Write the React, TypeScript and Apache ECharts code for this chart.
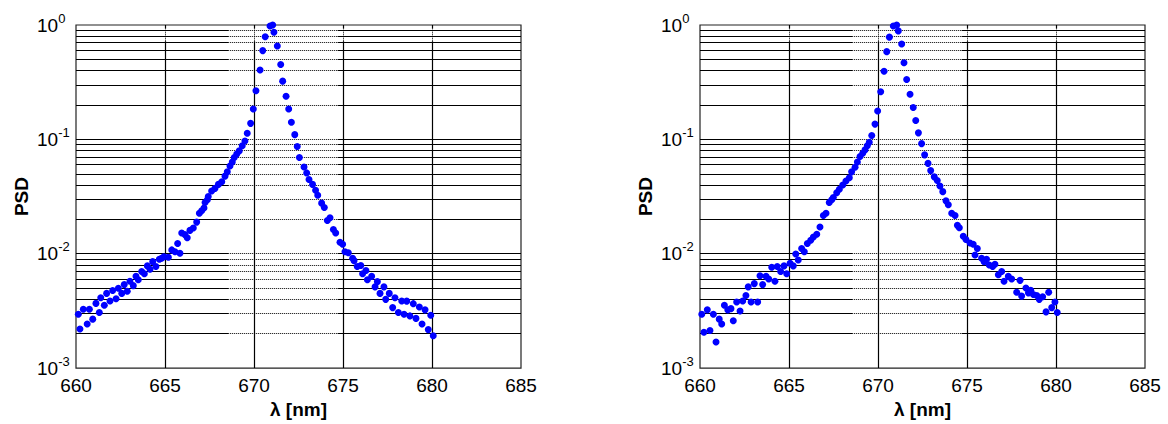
import React, { useEffect, useRef } from "react";
import * as echarts from "echarts";

// ---- data ----
const xTicks = [660, 665, 670, 675, 680, 685];
const yDecades = [0.001, 0.01, 0.1];
const yMultipliers = [1, 2, 3, 4, 5, 6, 7, 8, 9];
const vGridX = [665, 670, 675, 680];

const leftX = [
  660.13, 660.22, 660.41, 660.63, 660.75, 660.94, 661.12, 661.31, 661.39, 661.59,
  661.72, 661.91, 662.06, 662.25, 662.38, 662.57, 662.71, 662.88, 663.03, 663.22,
  663.37, 663.5, 663.69, 663.84, 664.01, 664.16, 664.31, 664.49, 664.68, 664.81,
  664.94, 665.19, 665.38, 665.56, 665.71, 665.84, 665.94, 666.12, 666.25, 666.4,
  666.59, 666.78, 666.93, 667.06, 667.19, 667.25, 667.38, 667.43, 667.62, 667.81,
  668.0, 668.19, 668.37, 668.5, 668.65, 668.78, 668.89, 669.03, 669.17, 669.34,
  669.49, 669.62, 669.81, 669.96, 670.11, 670.34, 670.49, 670.63, 670.9, 671.05,
  671.12, 671.31, 671.5, 671.61, 671.8, 671.95, 672.1, 672.29, 672.43, 672.55,
  672.81, 672.96, 673.09, 673.29, 673.46, 673.58, 673.8, 673.95, 674.12, 674.27,
  674.46, 674.59, 674.83, 674.98, 675.11, 675.3, 675.54, 675.62, 675.8, 676.0,
  676.1, 676.29, 676.37, 676.61, 676.8, 676.93, 677.08, 677.3, 677.4, 677.6,
  677.79, 677.92, 678.11, 678.3, 678.43, 678.58, 678.76, 678.95, 679.1, 679.29,
  679.44, 679.61, 679.79, 679.93, 680.07,
];
const leftY = [
  0.00296, 0.0022, 0.00327, 0.00243, 0.00327, 0.00268, 0.00368, 0.00306, 0.00412, 0.00354,
  0.0045, 0.00386, 0.00477, 0.00404, 0.00499, 0.0045, 0.00537, 0.0047, 0.00574, 0.00526,
  0.00634, 0.00593, 0.007, 0.00668, 0.00783, 0.00732, 0.00853, 0.00773, 0.00894, 0.00912,
  0.00942, 0.0093, 0.0108, 0.0104, 0.0123, 0.0101, 0.0152, 0.0147, 0.0138, 0.016,
  0.0168, 0.0189, 0.0226, 0.0238, 0.0251, 0.0281, 0.0296, 0.0316, 0.0354, 0.0373,
  0.0404, 0.0426, 0.0477, 0.052, 0.0585, 0.0633, 0.0695, 0.0743, 0.0793, 0.088,
  0.0967, 0.113, 0.138, 0.184, 0.266, 0.404, 0.597, 0.79, 0.98, 1.0,
  0.865, 0.655, 0.452, 0.323, 0.238, 0.184, 0.141, 0.11, 0.0865, 0.0695,
  0.0574, 0.0509, 0.0446, 0.0404, 0.0359, 0.0325, 0.0277, 0.0254, 0.0195, 0.0206,
  0.0163, 0.0152, 0.0126, 0.0121, 0.0104, 0.0102, 0.00912, 0.0087, 0.00773, 0.00788,
  0.00668, 0.00713, 0.00593, 0.00634, 0.00513, 0.0057, 0.0045, 0.00513, 0.00399, 0.0045,
  0.00338, 0.00412, 0.00306, 0.00386, 0.00296, 0.00385, 0.00286, 0.00366, 0.00272, 0.00342,
  0.00243, 0.00323, 0.00217, 0.0029, 0.00192,
];

const rightX = [
  660.1, 660.22, 660.41, 660.56, 660.75, 660.9, 661.08, 661.22, 661.37, 661.56,
  661.74, 661.87, 662.06, 662.25, 662.4, 662.58, 662.71, 662.87, 663.05, 663.24,
  663.37, 663.52, 663.71, 663.86, 664.03, 664.21, 664.34, 664.53, 664.72, 664.87,
  665.06, 665.24, 665.38, 665.52, 665.71, 665.86, 666.03, 666.22, 666.37, 666.56,
  666.74, 666.93, 667.08, 667.26, 667.4, 667.49, 667.68, 667.83, 668.02, 668.2,
  668.39, 668.52, 668.71, 668.84, 668.99, 669.14, 669.27, 669.4, 669.51, 669.65,
  669.83, 669.98, 670.15, 670.34, 670.49, 670.64, 670.86, 671.05, 671.14, 671.33,
  671.46, 671.61, 671.8, 671.98, 672.12, 672.27, 672.45, 672.62, 672.81, 672.96,
  673.16, 673.33, 673.48, 673.64, 673.82, 673.95, 674.14, 674.33, 674.46, 674.57,
  674.79, 674.94, 675.17, 675.35, 675.45, 675.58, 675.82, 675.96, 676.1, 676.25,
  676.44, 676.57, 676.76, 676.95, 677.08, 677.32, 677.51, 677.79, 677.98, 678.07,
  678.31, 678.45, 678.58, 678.73, 678.92, 679.06, 679.25, 679.44, 679.59, 679.76,
  679.94, 680.07,
];
const rightY = [
  0.00296, 0.00206, 0.00323, 0.00213, 0.00296, 0.00169, 0.00268, 0.00243, 0.00354, 0.00323,
  0.00331, 0.00259, 0.00378, 0.00316, 0.00386, 0.00432, 0.00513, 0.00378, 0.00548, 0.00378,
  0.00643, 0.00537, 0.00634, 0.00601, 0.00762, 0.00574, 0.00773, 0.007, 0.00783, 0.00668,
  0.00826, 0.00783, 0.00994, 0.00883, 0.0111, 0.0104, 0.0123, 0.0131, 0.014, 0.0148,
  0.0171, 0.0216, 0.0226, 0.0281, 0.0296, 0.031, 0.0342, 0.0366, 0.0399, 0.0432,
  0.0461, 0.052, 0.057, 0.0633, 0.0709, 0.0757, 0.0809, 0.088, 0.0942, 0.108,
  0.136, 0.177, 0.261, 0.394, 0.585, 0.783, 0.98, 1.0, 0.888, 0.681,
  0.468, 0.334, 0.248, 0.19, 0.146, 0.114, 0.0918, 0.0732, 0.0617, 0.0533,
  0.047, 0.0437, 0.0391, 0.0349, 0.029, 0.0268, 0.0226, 0.0216, 0.0177, 0.0169,
  0.0142, 0.0133, 0.0124, 0.0121, 0.00975, 0.0111, 0.00912, 0.00853, 0.00894, 0.00798,
  0.00773, 0.00809, 0.00655, 0.007, 0.00574, 0.00634, 0.00601, 0.00461, 0.00585, 0.00426,
  0.00502, 0.00455, 0.0048, 0.0044, 0.00431, 0.00399, 0.0042, 0.0031, 0.00461, 0.00338,
  0.00378, 0.00306,
];

// ---- styling constants ----
const FONT = "'Liberation Sans', Arial, Helvetica, sans-serif";
const X_MIN = 660;
const X_MAX = 685;
const Y_MIN = 0.001;
const Y_MAX = 1;
const DOT_X: [number, number] = [668.55, 674.7];
const DOT_Y: [number, number] = [0.72, 0.93];

const hGridValues: number[] = [];
yDecades.forEach((d) =>
  yMultipliers.forEach((m) => {
    const v = +(d * m).toPrecision(6);
    if (v > Y_MIN && v < Y_MAX) hGridValues.push(v);
  })
);

const solid = { color: "#000", width: 1.2, type: "solid" as const, opacity: 1 };
const dotted = { color: "#000", width: 1, type: [1, 1] as any, opacity: 1 };

function gridLines() {
  const out: any[] = [];
  hGridValues.forEach((v) => {
    out.push({ coords: [[X_MIN, v], [DOT_X[0], v]], lineStyle: solid });
    out.push({ coords: [[DOT_X[0], v], [DOT_X[1], v]], lineStyle: dotted });
    out.push({ coords: [[DOT_X[1], v], [X_MAX, v]], lineStyle: solid });
  });
  vGridX.forEach((x) => {
    out.push({ coords: [[x, Y_MIN], [x, DOT_Y[0]]], lineStyle: solid });
    out.push({ coords: [[x, DOT_Y[0]], [x, DOT_Y[1]]], lineStyle: dotted });
    out.push({ coords: [[x, DOT_Y[1]], [x, Y_MAX]], lineStyle: solid });
  });
  return out;
}

function makeX(gridIndex: number) {
  return {
    type: "value",
    gridIndex,
    min: X_MIN,
    max: X_MAX,
    interval: 5,
    name: "λ [nm]",
    nameLocation: "middle",
    nameGap: 25,
    nameTextStyle: { fontFamily: FONT, fontSize: 19, fontWeight: "bold", color: "#000" },
    axisLine: { show: false },
    axisTick: { show: false },
    splitLine: { show: false },
    axisLabel: {
      fontFamily: FONT,
      fontSize: 19,
      color: "#000",
      margin: 8,
      formatter: (v: number) => (xTicks.includes(v) ? String(v) : ""),
    },
  };
}

function makeY(gridIndex: number) {
  return {
    type: "log",
    logBase: 10,
    gridIndex,
    min: Y_MIN,
    max: Y_MAX,
    name: "PSD",
    nameLocation: "middle",
    nameGap: 45,
    nameRotate: 90,
    nameTextStyle: { fontFamily: FONT, fontSize: 19, fontWeight: "bold", color: "#000" },
    axisLine: { show: false },
    axisTick: { show: false },
    splitLine: { show: false },
    minorSplitLine: { show: false },
    axisLabel: {
      align: "left",
      margin: 39,
      formatter: (v: number) => `{b|10}{s|${Math.round(Math.log10(v))}}`,
      rich: {
        b: { fontFamily: FONT, fontSize: 19, color: "#000", lineHeight: 22, verticalAlign: "middle" },
        s: {
          fontFamily: FONT,
          fontSize: 13,
          color: "#000",
          lineHeight: 14,
          padding: [0, 0, 14, 0],
          verticalAlign: "middle",
        },
      },
    },
  };
}

export default function App() {
  const ref = useRef<HTMLDivElement>(null);
  useEffect(() => {
    if (!ref.current) return;
    const chart = echarts.init(ref.current, null, { renderer: "svg" });
    const lines = gridLines();
    const linesSeries = (idx: number) => ({
      type: "lines",
      coordinateSystem: "cartesian2d",
      xAxisIndex: idx,
      yAxisIndex: idx,
      polyline: false,
      silent: true,
      z: 1,
      lineStyle: { opacity: 1, color: "#000" },
      data: lines,
    });
    const scatterSeries = (idx: number, xs: number[], ys: number[]) => ({
      type: "scatter",
      xAxisIndex: idx,
      yAxisIndex: idx,
      symbol: "circle",
      symbolSize: 7,
      itemStyle: { color: "#0000ff", opacity: 1 },
      z: 5,
      data: xs.map((x, i) => [x, ys[i]]),
    });
    chart.setOption({
      animation: false,
      backgroundColor: "#fff",
      grid: [
        { left: 76, top: 25, width: 445, height: 348, show: true, borderColor: "#222", borderWidth: 1.2, backgroundColor: "transparent" },
        { left: 700, top: 25, width: 445, height: 348, show: true, borderColor: "#222", borderWidth: 1.2, backgroundColor: "transparent" },
      ],
      xAxis: [makeX(0), makeX(1)],
      yAxis: [makeY(0), makeY(1)],
      series: [
        linesSeries(0),
        linesSeries(1),
        scatterSeries(0, leftX, leftY),
        scatterSeries(1, rightX, rightY),
      ],
    });
    return () => chart.dispose();
  }, []);
  return (
    <div
      ref={ref}
      style={{ position: "fixed", left: 0, top: 0, width: 1168, height: 424, background: "#fff" }}
    />
  );
}
